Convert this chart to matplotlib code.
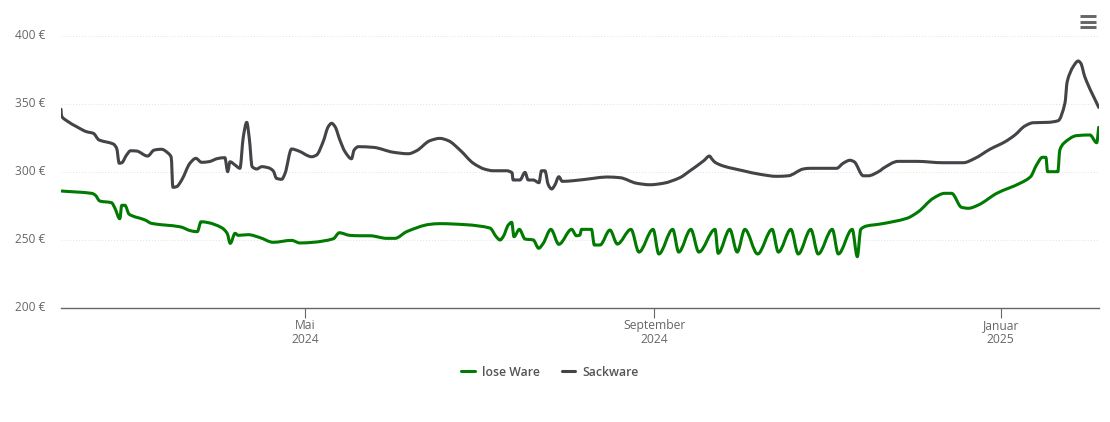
import matplotlib

matplotlib.use("Agg")
import matplotlib.dates as mdates
import matplotlib.pyplot as plt
import numpy as np
from matplotlib.lines import Line2D
from matplotlib.patches import PathPatch
from matplotlib.path import Path
from matplotlib.transforms import ScaledTranslation

plt.rcParams["font.family"] = ["Open Sans", "DejaVu Sans"]

START = np.datetime64("2024-05-01")

# days relative to START, prices in euro
lose_days = [
    -85.9, -75.1, -73.9, -72.2, -68.1, -66.9, -65.2, -64.5, -63.4, -61.9, -56.3, -54.0, -44.0,
    -39.9, -37.9, -36.6, -34.0, -29.3, -27.4, -26.3, -24.6, -23.5, -20.0, -15.8, -11.2, -4.7,
    -1.8, 2.9, 10.0, 12.1, 15.8, 19.4, 22.9, 28.8, 31.7, 35.8, 44.0, 47.5, 56.9, 65.1, 67.5,
    68.7, 69.8, 71.6, 72.8, 73.6, 75.5, 77.5, 80.4, 82.3, 83.9, 86.6, 89.4, 93.9, 95.6, 96.8,
    97.4, 100.9, 101.9, 103.9, 107.4, 110.0, 114.8, 117.6, 122.6, 124.6, 129.5, 131.6, 135.9,
    138.7, 144.4, 145.5, 149.6, 152.2, 154.9, 159.4, 164.5, 166.7, 171.1, 173.7, 178.1, 180.7,
    185.7, 187.8, 192.7, 194.5, 195.7, 197.8, 202.5, 211.9, 216.0, 221.2, 225.3, 227.7, 231.2,
    233.6, 237.1, 243.6, 251.8, 255.5, 257.6, 259.7, 260.9, 261.5, 265.1, 265.8, 267.2, 271.7,
    276.4, 278.8, 279.5,
]
lose_prices = [
    285.8, 284.1, 282.9, 278.4, 277.2, 273.1, 265.4, 275.3, 275.3, 268.7, 264.5, 262.0, 259.5,
    256.4, 255.9, 263.2, 262.5, 258.8, 254.7, 247.3, 254.7, 253.2, 253.7, 251.5, 248.1, 249.5,
    247.6, 248.1, 250.7, 255.1, 253.2, 252.9, 252.9, 251.0, 251.0, 255.9, 261.3, 261.8, 261.0,
    258.6, 251.8, 249.8, 252.2, 260.8, 262.8, 252.2, 257.6, 250.5, 249.8, 243.7, 247.3, 257.6,
    246.6, 257.6, 252.9, 253.4, 257.6, 257.6, 246.1, 246.1, 257.1, 246.8, 257.6, 240.9, 257.6,
    239.5, 257.6, 240.9, 257.6, 240.9, 257.6, 240.0, 257.6, 240.9, 257.6, 239.5, 257.6, 240.9,
    257.6, 239.5, 257.6, 239.5, 257.6, 239.5, 257.6, 237.5, 257.6, 260.1, 261.5, 265.7, 270.6,
    280.4, 284.1, 284.1, 273.8, 273.1, 275.5, 284.1, 291.5, 296.3, 304.9, 310.6, 310.6, 300.0,
    300.0, 315.9, 320.9, 326.5, 327.0, 321.3, 332.6,
]

sack_days = [
    -85.9, -85.7, -83.9, -80.4, -76.9, -74.5, -72.5, -69.8, -67.5, -66.3, -65.4, -64.5, -62.8,
    -61.4, -59.3, -55.4, -53.1, -50.5, -48.1, -47.1, -46.5, -45.2, -43.4, -40.5, -38.4, -36.4,
    -34.0, -30.5, -28.2, -27.2, -26.4, -24.6, -22.9, -21.7, -20.5, -19.6, -18.6, -17.0, -15.2,
    -12.9, -11.2, -10.0, -8.2, -7.0, -4.7, -2.4, 2.4, 4.1, 6.4, 8.2, 9.4, 10.6, 12.3, 14.1,
    16.4, 17.3, 18.8, 24.1, 31.1, 36.4, 39.3, 44.0, 47.5, 50.5, 54.6, 59.3, 63.4, 66.3, 71.0,
    72.9, 73.3, 75.7, 77.5, 78.6, 80.4, 82.4, 83.3, 84.5, 85.7, 86.9, 88.0, 89.4, 90.6, 94.5,
    101.5, 106.2, 110.9, 116.8, 121.5, 126.2, 132.0, 135.6, 140.5, 142.4, 143.4, 144.4, 147.3,
    154.3, 160.2, 166.1, 170.2, 175.5, 177.8, 187.2, 189.5, 191.9, 193.4, 196.6, 198.3, 202.5,
    203.6, 208.9, 215.4, 224.7, 231.8, 235.9, 241.2, 246.5, 250.0, 253.5, 256.4, 261.7, 265.2,
    267.6, 268.4, 270.5, 272.3, 273.2, 274.6, 279.5,
]
sack_prices = [
    345.9, 340.9, 337.5, 333.1, 329.4, 328.2, 323.3, 321.8, 320.4, 317.2, 306.2, 306.6, 312.3,
    315.4, 315.2, 311.5, 315.9, 316.5, 313.5, 310.6, 288.5, 289.0, 293.9, 306.2, 309.8, 306.9,
    307.3, 309.8, 310.3, 300.0, 307.3, 304.9, 302.5, 325.7, 336.3, 324.5, 303.7, 302.0, 303.7,
    302.9, 300.7, 295.1, 294.4, 298.8, 316.7, 315.4, 311.0, 312.3, 322.0, 333.1, 335.6, 333.1,
    323.3, 314.7, 309.5, 315.9, 318.4, 317.9, 314.3, 313.2, 315.4, 322.8, 324.5, 322.8, 315.9,
    306.2, 301.8, 300.7, 300.7, 299.3, 293.9, 293.9, 299.5, 293.9, 293.9, 291.9, 300.7, 300.7,
    290.2, 287.3, 290.2, 296.3, 292.9, 293.4, 295.1, 296.1, 295.6, 291.5, 290.4, 291.5, 295.6,
    300.7, 308.2, 311.5, 309.1, 306.9, 304.2, 300.7, 298.1, 296.6, 297.0, 302.0, 302.5, 302.5,
    306.2, 308.4, 307.3, 297.0, 297.0, 300.7, 302.5, 307.6, 307.6, 306.6, 306.6, 309.8, 316.5,
    322.0, 327.0, 333.6, 336.0, 336.3, 337.5, 350.3, 366.2, 377.2, 381.4, 379.7, 369.8, 347.3,
]

y_ticks = [200, 250, 300, 350, 400]
x_tick_dates = np.array(["2024-05-01", "2024-09-01", "2025-01-01"], dtype="datetime64[D]")
x_tick_labels = ["Mai\n2024", "September\n2024", "Januar\n2025"]

GREEN = "#007a00"
DARK = "#434348"
TEXT = "#666666"


def spline_path(xs, ys):
    # cubic beziers with flat tangents at local extremes, like the web chart's spline
    xs = np.asarray(xs, dtype=float)
    ys = np.asarray(ys, dtype=float)
    slope = np.diff(ys) / np.diff(xs)
    tangent = np.zeros(len(xs))
    for i in range(1, len(xs) - 1):
        if slope[i - 1] * slope[i] > 0:
            tangent[i] = 2 * slope[i - 1] * slope[i] / (slope[i - 1] + slope[i])
    tangent[0], tangent[-1] = slope[0], slope[-1]

    verts = [(xs[0], ys[0])]
    codes = [Path.MOVETO]
    for i in range(len(xs) - 1):
        dx = (xs[i + 1] - xs[i]) / 3
        verts += [
            (xs[i] + dx, ys[i] + tangent[i] * dx),
            (xs[i + 1] - dx, ys[i + 1] - tangent[i + 1] * dx),
            (xs[i + 1], ys[i + 1]),
        ]
        codes += [Path.CURVE4] * 3
    return Path(verts, codes)


fig = plt.figure(figsize=(11.10, 4.22), dpi=100)
ax = fig.add_axes([61 / 1110, 1 - 307.7 / 422, 1038 / 1110, 272 / 422])

base = mdates.date2num(START)
for days, prices, color in [(lose_days, lose_prices, GREEN), (sack_days, sack_prices, DARK)]:
    path = spline_path(base + np.array(days), prices)
    ax.add_patch(PathPatch(path, fill=False, edgecolor=color, lw=2.2, capstyle="round", joinstyle="round", zorder=3))

ax.set_xlim(base - 85.9, base + 279.6)
ax.set_ylim(200, 400)

ax.set_yticks(y_ticks)
ax.set_yticklabels([f"{v} €" for v in y_ticks], fontsize=8.6, color=TEXT)
ax.set_xticks(mdates.date2num(x_tick_dates))
ax.set_xticklabels(x_tick_labels, fontsize=8.7, color=TEXT, linespacing=1.15)
ax.tick_params(axis="y", length=0, pad=11)
ax.tick_params(axis="x", length=7.5, width=0.8, color="#666666", pad=0.5)

lift = ScaledTranslation(0, 1.5 / 100, fig.dpi_scale_trans)
for label in ax.get_yticklabels():
    label.set_transform(label.get_transform() + lift)

ax.grid(axis="y", color="#e0e0e0", lw=0.7, ls=(0, (1, 2)))
ax.set_axisbelow(True)
for side in ("top", "left", "right"):
    ax.spines[side].set_visible(False)
ax.spines["bottom"].set_color("#666666")
ax.spines["bottom"].set_linewidth(1.0)

handles = [
    Line2D([], [], color=GREEN, lw=2.2, solid_capstyle="round"),
    Line2D([], [], color=DARK, lw=2.2, solid_capstyle="round"),
]
leg = fig.legend(
    handles,
    ["lose Ware", "Sackware"],
    loc="center",
    bbox_to_anchor=(550 / 1110, 1 - 372 / 422),
    ncol=2,
    frameon=False,
    handlelength=1.1,
    handletextpad=0.6,
    columnspacing=1.75,
    prop={"size": 8.8, "weight": "semibold"},
)
for text in leg.get_texts():
    text.set_color("#555555")

# menu button, top right
for y_px in (16, 21.5, 27):
    fig.add_artist(
        Line2D(
            [1080 / 1110, 1096 / 1110],
            [1 - y_px / 422] * 2,
            color="#666666",
            lw=2.1,
            solid_capstyle="butt",
        )
    )

fig.savefig("out.png", dpi=100)
